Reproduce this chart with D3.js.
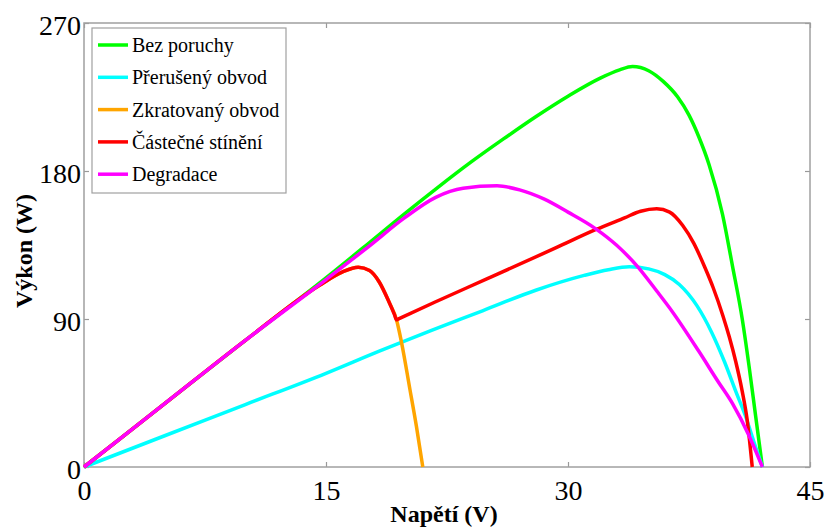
<!DOCTYPE html>
<html>
<head>
<meta charset="utf-8">
<script src="https://cdn.jsdelivr.net/npm/d3@7"></script>
<style>
  body { margin: 0; background: #fff; }
  svg { display: block; }
  svg text { font-family: "Liberation Serif", "Times New Roman", serif; }
</style>
</head>
<body>
<svg id="chart"></svg>
<script>
var width = 826;
var height = 528;

// plot box
var padding = { t: 23, r: 16, b: 61, l: 84 };
var chartWidth = width - padding.l - padding.r;
var chartHeight = height - padding.t - padding.b;

var xTicks = [0, 15, 30, 45];
var yTicks = [0, 90, 180, 270];

var seriesNames = ["Bez poruchy", "Přerušený obvod", "Zkratovaný obvod", "Částečné stínění", "Degradace"];
var seriesColors = ["#00ff00", "#00ffff", "#ffa500", "#ff0000", "#ff00ff"];

// Bez poruchy
var greenV = [0, 5, 10, 15, 17.7, 20, 21.8, 24, 26, 28, 30, 32, 33.2, 34, 35, 35.9, 36.8, 37.5, 38.1, 38.74, 39.57, 40.19, 40.8, 41.22, 41.63, 42.05];
var greenP = [0, 38.5, 77, 115, 136.5, 155, 169, 185.5, 199.5, 213, 225.5, 236.5, 241.5, 243.5, 241, 234.5, 225, 214, 201, 184, 154, 122.5, 90, 61.5, 31, 0];

// Přerušený obvod
var cyanV = [0, 5, 10, 15, 18.3, 21.5, 24.7, 28, 31, 32.5, 33.8, 35, 36, 36.9, 38, 38.9, 39.7, 40.4, 41, 41.5, 42.05];
var cyanP = [0, 19, 38, 57, 70.5, 83, 95, 107.5, 116.5, 120, 121.8, 120.5, 117, 111, 98, 82, 64, 46, 31, 16, 0];

// Zkratovaný obvod
var orangeV = [0, 5, 10, 14.6, 16, 17, 17.7, 18.3, 18.9, 19.37, 19.68, 20.2, 20.6, 21];
var orangeP = [0, 38.5, 77, 110.5, 118.5, 121.5, 119.5, 112.5, 100.5, 89.5, 75.8, 47.3, 25, 0];

// Částečné stínění
var redV = [0, 5, 10, 14.6, 16, 17, 17.7, 18.3, 18.9, 19.25, 19.37, 19.5, 21.8, 25, 29.3, 31.7, 33.5, 34.5, 35.5, 36.3, 37.1, 37.8, 38.5, 39, 39.6, 40, 40.4, 40.8, 41.1, 41.42];
var redP = [0, 38.5, 77, 110.5, 118.5, 121.5, 119.5, 112.5, 100.5, 92.5, 89.5, 90.1, 100.5, 114.5, 133.5, 144.3, 151.5, 155.5, 157, 155, 147, 136, 121, 109, 92, 79, 64, 46, 29, 0];

// Degradace
var magentaV = [0, 5, 10, 15, 17.7, 19.8, 21.8, 23.5, 25.6, 27, 28.5, 30, 31.7, 33, 34.3, 35.5, 36.5, 38.1, 39.3, 40.2, 41.2, 42.05];
var magentaP = [0, 38.5, 77, 114, 134.5, 151, 164, 169.5, 171, 168.5, 163, 155, 145, 135, 122, 107, 94, 70.5, 52, 38.5, 19.5, 0];

var seriesV = [greenV, cyanV, orangeV, redV, magentaV];
var seriesP = [greenP, cyanP, orangeP, redP, magentaP];

var svg = d3.select("#chart")
    .attr("width", width)
    .attr("height", height);

var xScale = d3.scaleLinear().domain([0, 45]).range([0, chartWidth]);
var yScale = d3.scaleLinear().domain([0, 270]).range([chartHeight, 0]);

var chart = svg.append("g")
    .attr("transform", "translate(" + padding.l + "," + padding.t + ")");

var serif = "Liberation Serif, Times New Roman, serif";

// axes, ticks pointing inside
var xAxis = d3.axisBottom(xScale).tickValues(xTicks).tickSize(-5).tickPadding(13);
var yAxis = d3.axisLeft(yScale).tickValues(yTicks).tickSize(-5).tickPadding(3);
var xAxisTop = d3.axisTop(xScale).tickValues(xTicks).tickSize(-5).tickFormat("");
var yAxisRight = d3.axisRight(yScale).tickValues(yTicks).tickSize(-5).tickFormat("");

var gx = chart.append("g")
    .attr("transform", "translate(0," + chartHeight + ")")
    .call(xAxis);
gx.selectAll("text").attr("dy", "0.71em");

var gy = chart.append("g").call(yAxis);
gy.selectAll("text").attr("dy", "0.4em");

chart.append("g").call(xAxisTop);
chart.append("g").attr("transform", "translate(" + chartWidth + ",0)").call(yAxisRight);

chart.selectAll(".domain").remove();
chart.selectAll(".tick line").attr("stroke", "#999").attr("stroke-width", 1.2);
chart.selectAll(".tick text")
    .attr("font-family", serif)
    .attr("font-size", 28)
    .attr("fill", "#000");

chart.append("rect")
    .attr("x", 0)
    .attr("y", 0)
    .attr("width", chartWidth)
    .attr("height", chartHeight)
    .attr("fill", "none")
    .attr("stroke", "#a0a0a0")
    .attr("stroke-width", 1.5);

// curves
var line = d3.line()
    .x(d => xScale(d[0]))
    .y(d => yScale(d[1]))
    .curve(d3.curveMonotoneX);

for (var i = 0; i < seriesNames.length; ++i) {
    var pts = seriesV[i].map((v, j) => [v, seriesP[i][j]]);
    chart.append("path")
        .datum(pts)
        .attr("d", line)
        .attr("fill", "none")
        .attr("stroke", seriesColors[i])
        .attr("stroke-width", 3.5)
        .attr("stroke-linejoin", "round");
}

// axis titles
svg.append("text")
    .attr("x", padding.l + chartWidth / 2 - 3)
    .attr("y", 522)
    .attr("text-anchor", "middle")
    .attr("font-family", serif)
    .attr("font-weight", "bold")
    .attr("font-size", 24)
    .text("Napětí (V)");

svg.append("text")
    .attr("transform", "translate(32," + 251 + ") rotate(-90)")
    .attr("text-anchor", "middle")
    .attr("font-family", serif)
    .attr("font-weight", "bold")
    .attr("font-size", 24)
    .text("Výkon (W)");

// legend
var legend = svg.append("g").attr("transform", "translate(92,28)");

legend.append("rect")
    .attr("width", 194)
    .attr("height", 165)
    .attr("fill", "#fff")
    .attr("stroke", "#a0a0a0")
    .attr("stroke-width", 1.2);

var rows = legend.selectAll("g.row")
    .data(seriesNames)
    .enter()
    .append("g")
    .attr("class", "row")
    .attr("transform", (d, i) => "translate(0," + (17 + i * 32.3) + ")");

rows.append("line")
    .attr("x1", 6)
    .attr("x2", 36)
    .attr("stroke", (d, i) => seriesColors[i])
    .attr("stroke-width", 3.5);

rows.append("text")
    .attr("x", 40)
    .attr("y", 7)
    .attr("font-family", serif)
    .attr("font-size", 20)
    .attr("fill", "#000")
    .text(d => d);
</script>
</body>
</html>
